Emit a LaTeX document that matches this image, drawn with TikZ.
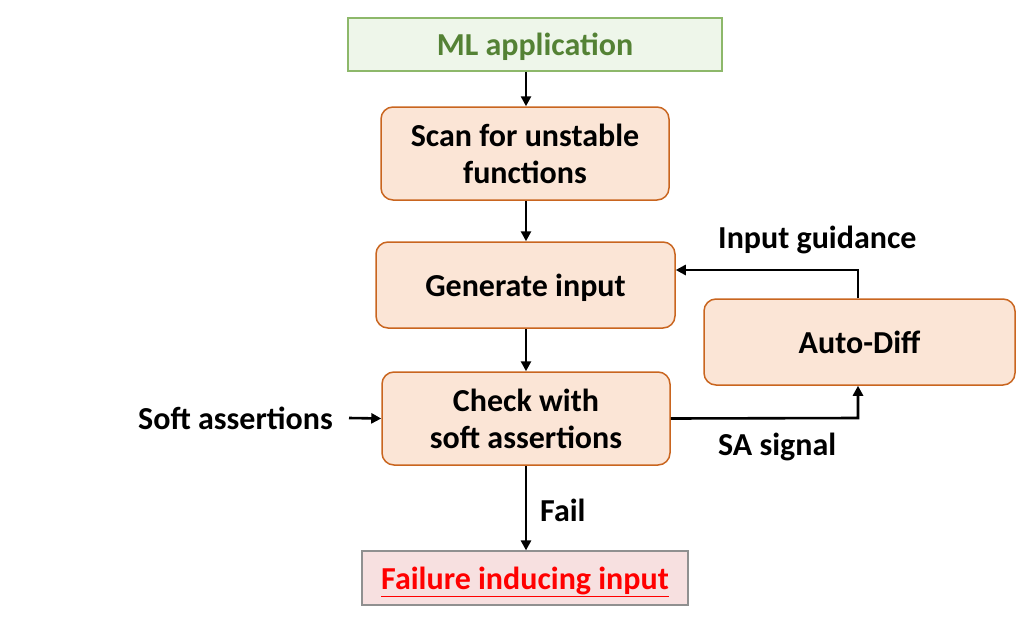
\documentclass[tikz,border=0pt]{standalone}
\usepackage{fontspec}
\setmainfont{Carlito}
\usetikzlibrary{arrows.meta,positioning}
\definecolor{boxfill}{HTML}{FBE5D6}
\definecolor{boxline}{HTML}{C9651F}
\definecolor{gfill}{HTML}{EEF6EA}
\definecolor{gline}{HTML}{8DB86A}
\definecolor{gtext}{HTML}{548235}
\definecolor{rfill}{HTML}{F7E0E0}
\definecolor{rline}{HTML}{909090}
\tikzset{
  x=1pt,y=-1pt,
  every node/.style={font=\fontsize{32}{37}\selectfont\bfseries, align=center, inner sep=0pt},
  procbox/.style={draw=boxline, fill=boxfill, line width=1.5pt, rounded corners=12pt},
  greenbox/.style={draw=gline, fill=gfill, line width=1.2pt},
  redbox/.style={draw=rline, fill=rfill, line width=1.2pt},
  onel/.style={text height=27pt, text depth=4pt},
  conn/.style={-{Triangle[length=10pt,width=10pt]}, line width=2.6pt, black},
}
\begin{document}
\begin{tikzpicture}
\useasboundingbox (0,0) rectangle (1030,626);
\node[greenbox, onel, minimum width=374pt, minimum height=53pt, text=gtext] (ml) at (535,44.5) {ML application};
\node[procbox, minimum width=288pt, minimum height=93pt] (scan) at (525,153.5) {Scan for unstable\\functions};
\node[procbox, onel, minimum width=299pt, minimum height=86pt] (gen) at (525.5,285) {Generate input};
\node[procbox, minimum width=311pt, minimum height=86pt] (ad) at (859.5,342) {Auto-Diff};
\node[procbox, minimum width=288pt, minimum height=93pt] (chk) at (526,418.5) {Check with\\soft assertions};
\node[redbox, onel, minimum width=326pt, minimum height=54pt, text=red] (fail) at (525,578) {\underline{Failure inducing input}};
\node[anchor=east] (sa) at (333,418) {Soft assertions};
\node[anchor=west] (failt) at (540,510) {Fail};
\node[anchor=west] (sasig) at (718,447) {SA signal};
\node[anchor=west] (ig) at (718,240) {Input guidance};
\coordinate (c1) at (858,418);
\coordinate (c2) at (858,270);
\draw[conn] (ml.south -| 526,0) -- (scan.north -| 526,0);
\draw[conn] (scan.south -| 526,0) -- (gen.north -| 526,0);
\draw[conn] (gen.south -| 526,0) -- (chk.north -| 526,0);
\draw[conn] (chk.south -| 526,0) -- (fail.north -| 526,0);
\draw[conn] (sa.east) ++(16,0) -- (chk.west);
\draw[conn] (chk.east) -- (c1) -- (ad.south -| c1);
\draw[conn] (ad.north -| c2) -- (c2) -- (gen.east |- c2);
\end{tikzpicture}
\end{document}
